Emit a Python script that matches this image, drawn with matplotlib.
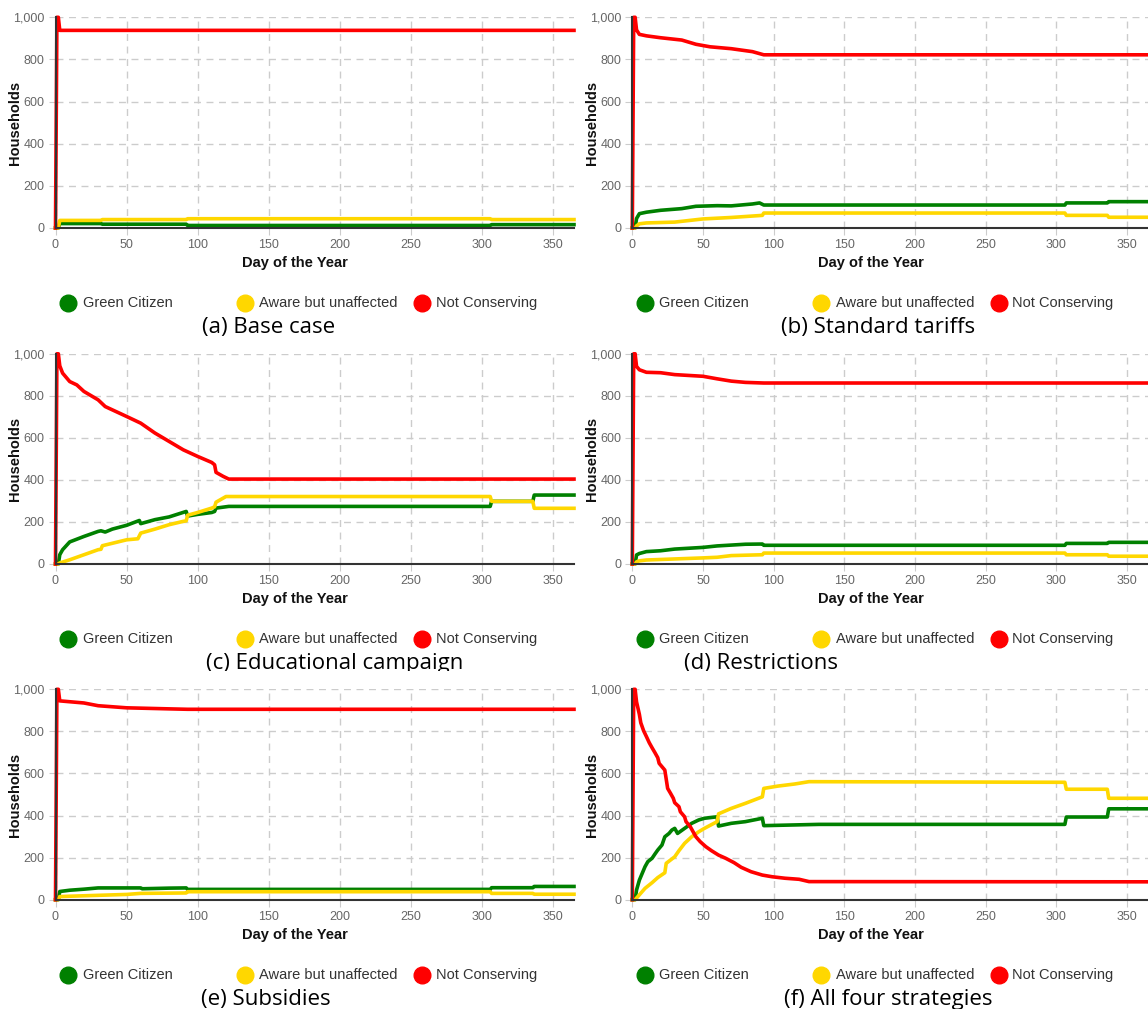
import matplotlib
matplotlib.use("Agg")
import matplotlib.pyplot as plt
from matplotlib.lines import Line2D
from matplotlib.ticker import FuncFormatter
from matplotlib.transforms import Bbox, TransformedBbox

plt.rcParams['font.family'] = ['Liberation Sans', 'DejaVu Sans']

W, H = 1148, 1009

# series labels / colours
labels = ["Green Citizen", "Aware but unaffected", "Not Conserving"]
colors = ["#008000", "#FFD700", "#FF0000"]

x_ticks = [0, 50, 100, 150, 200, 250, 300, 350]
y_ticks = [0, 200, 400, 600, 800, 1000]

# (day, households) points
# (a) Base case
a_green = [(0, 0), (2, 0), (3, 21), (32, 21), (33, 18), (92, 18), (93, 12), (306, 12), (307, 16), (365, 16)]
a_yellow = [(0, 0), (2, 0), (3, 36), (32, 36), (33, 40), (92, 40), (93, 44), (306, 44), (307, 40), (365, 40)]
a_red = [(0, 0), (1, 1000), (2, 1000), (3, 938), (365, 938)]

# (b) Standard tariffs
b_green = [(0, 0), (2, 0), (3, 45), (5, 68), (10, 75), (20, 84), (35, 92), (45, 103), (60, 106), (70, 105),
           (85, 114), (90, 119), (93, 109), (306, 109), (307, 119), (336, 119), (337, 125), (365, 125)]
b_yellow = [(0, 0), (2, 0), (3, 10), (5, 20), (10, 24), (30, 28), (50, 43), (70, 50), (90, 59), (92, 60),
            (93, 71), (306, 71), (307, 60), (336, 60), (337, 51), (365, 51)]
b_red = [(0, 0), (1, 1000), (2, 1000), (3, 940), (5, 919), (10, 912), (20, 903), (35, 892), (45, 872),
         (55, 860), (70, 851), (85, 837), (93, 822), (365, 822)]

# (c) Educational campaign
c_green = [(0, 0), (2, 0), (3, 44), (5, 68), (10, 105), (20, 131), (30, 155), (32, 158), (35, 152), (40, 166),
           (50, 184), (59, 207), (60, 192), (70, 211), (80, 224), (92, 250), (93, 228), (100, 236), (110, 245),
           (112, 250), (113, 266), (122, 274), (306, 274), (307, 298), (336, 298), (337, 328), (365, 328)]
c_yellow = [(0, 0), (2, 0), (3, 5), (10, 20), (20, 44), (30, 68), (32, 70), (33, 87), (50, 115), (58, 120),
            (60, 147), (70, 166), (80, 187), (90, 203), (92, 205), (93, 232), (100, 245), (110, 266), (112, 272),
            (113, 294), (120, 321), (306, 321), (307, 298), (336, 298), (337, 265), (365, 265)]
c_red = [(0, 0), (1, 1000), (2, 1000), (3, 943), (5, 908), (10, 868), (15, 852), (20, 821), (30, 781),
         (35, 749), (50, 702), (60, 670), (70, 623), (80, 583), (90, 543), (100, 512), (110, 483), (112, 472),
         (113, 436), (118, 417), (122, 404), (365, 404)]

# (d) Restrictions
d_green = [(0, 0), (2, 0), (3, 43), (5, 50), (10, 59), (20, 63), (30, 71), (50, 79), (60, 86), (70, 90),
           (80, 94), (92, 95), (93, 89), (306, 89), (307, 98), (336, 98), (337, 103), (365, 103)]
d_yellow = [(0, 0), (2, 0), (3, 10), (5, 15), (10, 19), (30, 24), (50, 29), (60, 32), (70, 40), (92, 44),
            (93, 52), (306, 52), (307, 44), (336, 44), (337, 37), (365, 37)]
d_red = [(0, 0), (1, 1000), (2, 1000), (3, 940), (5, 924), (10, 912), (20, 910), (30, 901), (45, 895),
         (50, 893), (60, 881), (70, 870), (80, 864), (93, 861), (365, 861)]

# (e) Subsidies
e_green = [(0, 0), (2, 0), (3, 39), (10, 45), (20, 50), (30, 56), (60, 56), (61, 52), (80, 55), (92, 56),
           (93, 49), (306, 49), (307, 57), (336, 57), (337, 63), (365, 63)]
e_yellow = [(0, 0), (2, 0), (3, 15), (50, 25), (60, 30), (92, 32), (93, 38), (306, 38), (307, 30), (336, 30),
            (337, 26), (365, 26)]
e_red = [(0, 0), (1, 1000), (2, 1000), (3, 945), (20, 935), (30, 922), (50, 912), (80, 907), (93, 905), (365, 905)]

# (f) All four strategies
f_green = [(0, 0), (2, 0), (3, 46), (5, 93), (7, 125), (9, 157), (11, 181), (14, 197), (16, 217), (18, 236),
           (21, 260), (23, 299), (26, 315), (28, 331), (30, 339), (32, 315), (37, 339), (42, 363), (47, 379),
           (51, 387), (60, 394), (61, 350), (70, 363), (80, 371), (92, 387), (93, 352), (132, 358), (306, 358),
           (307, 393), (336, 393), (337, 432), (365, 432)]
f_yellow = [(0, 0), (2, 0), (9, 54), (14, 81), (18, 105), (23, 128), (24, 173), (30, 204), (33, 233), (37, 268),
            (42, 299), (47, 323), (51, 339), (60, 371), (61, 408), (70, 434), (80, 458), (92, 489), (93, 529),
            (103, 540), (115, 550), (125, 561), (306, 558), (307, 525), (336, 525), (337, 482), (365, 482)]
f_red = [(0, 0), (1, 1000), (2, 1000), (3, 940), (5, 881), (6, 841), (8, 803), (10, 775), (12, 746), (14, 722),
         (16, 699), (18, 675), (19, 648), (23, 616), (25, 529), (27, 506), (29, 482), (30, 461), (33, 442),
         (34, 418), (37, 394), (38, 371), (41, 347), (43, 323), (45, 299), (48, 276), (52, 252), (56, 233),
         (61, 212), (66, 197), (72, 176), (77, 154), (84, 133), (92, 117), (99, 109), (108, 102), (118, 97),
         (125, 86), (365, 85)]

panels = [
    ("(a) Base case", [a_green, a_yellow, a_red]),
    ("(b) Standard tariffs", [b_green, b_yellow, b_red]),
    ("(c) Educational campaign", [c_green, c_yellow, c_red]),
    ("(d) Restrictions", [d_green, d_yellow, d_red]),
    ("(e) Subsidies", [e_green, e_yellow, e_red]),
    ("(f) All four strategies", [f_green, f_yellow, f_red]),
]

# layout in pixels
col_left = [55.5, 632.3]
col_width = [518.5, 516.0]
row_top = [17.3, 353.8, 689.3]
row_bottom = [228.0, 564.0, 899.7]
caption_x = [269, 878, 335, 761, 266, 888]
legend_dx = [(12.5, 27), (189, 203.5), (366.5, 380)]

fig = plt.figure(figsize=(W / 100, H / 100), dpi=100)

for i, (caption, series) in enumerate(panels):
    r, c = divmod(i, 2)
    left, width = col_left[c], col_width[c]
    top, bottom = row_top[r], row_bottom[r]
    ax = fig.add_axes([left / W, 1 - bottom / H, width / W, (bottom - top) / H])

    for pts, color in zip(series, colors):
        xs, ys = zip(*pts)
        ax.plot(xs, ys, color=color, lw=2.6, solid_joinstyle='round', clip_on=False, zorder=3)
    ax.set_xlim(0, 365)
    ax.set_ylim(0, 1000)
    ax.set_xticks(x_ticks)
    ax.set_yticks(y_ticks)
    ax.yaxis.set_major_formatter(FuncFormatter(lambda v, p: f"{v:,.0f}"))
    ax.grid(True, color='#cccccc', linestyle=(0, (5, 4)), linewidth=1)
    ax.set_axisbelow(True)
    ax.tick_params(length=5, color='#cccccc', labelcolor='#666666', labelsize=9, pad=3)
    for s in ['top', 'right']:
        ax.spines[s].set_visible(False)
    for s in ['left', 'bottom']:
        ax.spines[s].set_color('#333333')
        ax.spines[s].set_linewidth(1.5)
        ax.spines[s].set_zorder(4)

    ax.set_xlabel("Day of the Year", fontsize=10.5, fontweight='bold', color='#111111')
    ax.xaxis.set_label_coords(0.462, -28 / (bottom - top))
    ax.set_ylabel("Households", fontsize=10.5, fontweight='bold', color='#111111')
    ax.yaxis.set_label_coords(-0.064, 0.5)

    # legend row under the chart
    ly = 1 - (bottom + 75) / H
    for (dm, dt), color, label in zip(legend_dx, colors, labels):
        fig.add_artist(Line2D([(left + dm) / W], [ly], marker='o', markersize=12, color=color,
                              linestyle='none', transform=fig.transFigure))
        fig.text((left + dt) / W, ly, label, ha='left', va='center', fontsize=10.5, color='#333333')

    # sub-figure caption
    t = fig.text(caption_x[i] / W, 1 - (bottom + 105) / H, caption, ha='center', va='baseline',
                 fontsize=16, family=['Open Sans', 'DejaVu Sans'], color='#000000')
    if r == 1:
        t.set_clip_box(TransformedBbox(Bbox.from_extents(0, 1 - 671 / H, 1, 1), fig.transFigure))
        t.set_clip_on(True)

fig.savefig("out.png", dpi=100)
